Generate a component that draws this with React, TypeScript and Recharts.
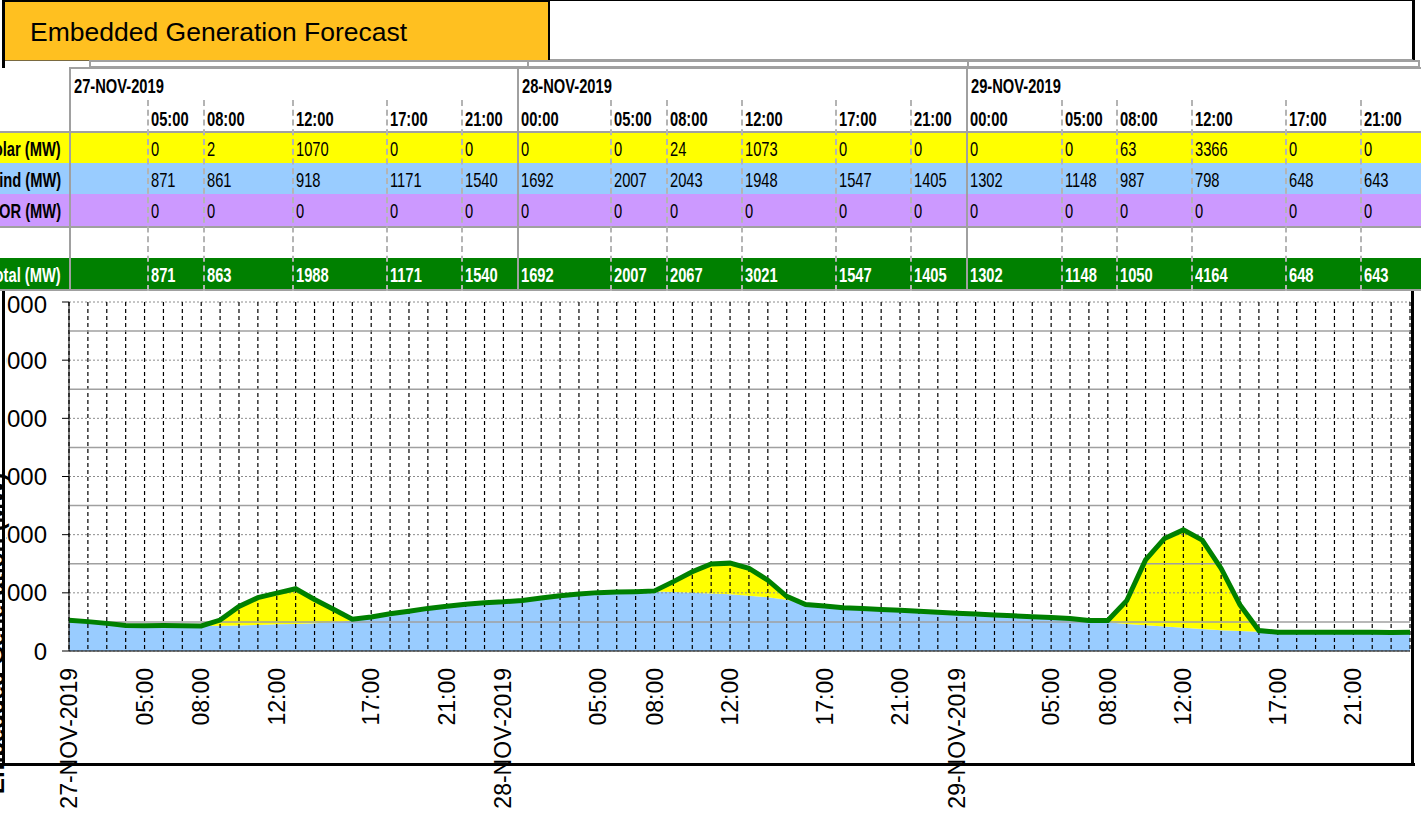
import React from "react";
import {
  Area,
  CartesianGrid,
  ComposedChart,
  Line,
  ReferenceLine,
  XAxis,
  YAxis,
} from "recharts";

// hourly forecast, 27-NOV-2019 01:00 .. 30-NOV-2019 00:00
const windMW = [
  1060, 1010, 950, 880, 871, 875, 868, 861,
  868, 880, 898, 918, 925, 950, 985, 1045,
  1171, 1280, 1370, 1465, 1540, 1610, 1660, 1692,
  1740, 1820, 1900, 1960, 2007, 2025, 2040, 2043,
  2025, 2005, 1975, 1948, 1900, 1845, 1760, 1600,
  1547, 1490, 1460, 1430, 1405, 1370, 1335, 1302,
  1270, 1240, 1210, 1180, 1148, 1120, 1045, 987,
  930, 885, 840, 798, 755, 710, 688, 665,
  648, 645, 643, 642, 643, 642, 640, 645,
];

const solarMW = [
  0, 0, 0, 0, 0, 0, 0, 2,
  196, 650, 935, 1070, 1215, 820, 450, 50,
  0, 0, 0, 0, 0, 0, 0, 0,
  0, 0, 0, 0, 0, 0, 0, 24,
  360, 720, 1015, 1073, 940, 590, 120, 0,
  0, 0, 0, 0, 0, 0, 0, 0,
  0, 0, 0, 0, 0, 0, 0, 63,
  800, 2245, 3030, 3366, 3060, 2130, 893, 40,
  0, 0, 0, 0, 0, 0, 0, 0,
];

const tickLabels = [
  "27-NOV-2019", "", "", "", "05:00", "", "", "08:00",
  "", "", "", "12:00", "", "", "", "",
  "17:00", "", "", "", "21:00", "", "", "28-NOV-2019",
  "", "", "", "", "05:00", "", "", "08:00",
  "", "", "", "12:00", "", "", "", "",
  "17:00", "", "", "", "21:00", "", "", "29-NOV-2019",
  "", "", "", "", "05:00", "", "", "08:00",
  "", "", "", "12:00", "", "", "", "",
  "17:00", "", "", "", "21:00", "", "", "",
];

const yTicks = [0, 2000, 4000, 6000, 8000, 10000, 12000];
const minorGrid = [1000, 3000, 5000, 7000, 9000, 11000];

// table above the chart
const tableDates = ["27-NOV-2019", "28-NOV-2019", "29-NOV-2019"];
const tableTimes = [
  "", "05:00", "08:00", "12:00", "17:00", "21:00",
  "00:00", "05:00", "08:00", "12:00", "17:00", "21:00",
  "00:00", "05:00", "08:00", "12:00", "17:00", "21:00",
];
const tableSolar = [null, 0, 2, 1070, 0, 0, 0, 0, 24, 1073, 0, 0, 0, 0, 63, 3366, 0, 0];
const tableWind = [null, 871, 861, 918, 1171, 1540, 1692, 2007, 2043, 1948, 1547, 1405, 1302, 1148, 987, 798, 648, 643];
const tableStor = [null, 0, 0, 0, 0, 0, 0, 0, 0, 0, 0, 0, 0, 0, 0, 0, 0, 0];

const tableTotal = tableWind.map((w, i) =>
  w === null ? null : w + (tableSolar[i] ?? 0) + (tableStor[i] ?? 0)
);

const chartData = windMW.map((w, i) => ({
  slot: i,
  wind: w,
  solar: solarMW[i],
  total: w + solarMW[i],
}));

const FONT = "'Liberation Sans', Arial, sans-serif";
const GRAY = "#a0a0a0";
const colLeft = [70, 148, 204, 293, 387, 462, 518, 611, 667, 742, 836, 911, 967, 1062, 1117, 1192, 1286, 1361];
const dayCols = [0, 6, 12];
const CHART_TOP = 291;
const CLIP_X = 6;

const abs = (s: React.CSSProperties): React.CSSProperties => ({ position: "absolute", ...s });

const CellText = ({ left, top, height, text, bold, color, right }: any) => (
  <div
    style={abs({
      left,
      right,
      top,
      height,
      lineHeight: height + "px",
      fontSize: 21,
      fontWeight: bold ? 700 : 400,
      color: color || "#000",
      whiteSpace: "nowrap",
      transform: "scaleX(0.7)",
      transformOrigin: right !== undefined ? "100% 50%" : "0 50%",
    })}
  >
    {text}
  </div>
);

const HourTick = (props: any) => {
  const { x, y, payload } = props;
  const label = tickLabels[payload.value];
  if (!label) return <g />;
  return (
    <text
      x={0}
      y={0}
      transform={`translate(${x},${y + 17}) rotate(-90)`}
      textAnchor="end"
      dy="0.35em"
      fontSize={23}
      fill="#000"
      fontFamily={FONT}
    >
      {label}
    </text>
  );
};

const rows = [
  { label: "Solar (MW)", top: 133, h: 30, bg: "#FFFF00", vals: tableSolar, color: "#000", bold: false },
  { label: "Wind (MW)", top: 163, h: 31, bg: "#99CCFF", vals: tableWind, color: "#000", bold: false },
  { label: "STOR (MW)", top: 194, h: 32, bg: "#CC99FF", vals: tableStor, color: "#000", bold: false },
  { label: "", top: 228, h: 30, bg: "#FFFFFF", vals: [], color: "#000", bold: false },
  { label: "Total (MW)", top: 258, h: 31, bg: "#008000", vals: tableTotal, color: "#fff", bold: true },
];

export default function App() {
  return (
    <div style={abs({ left: 0, top: 0, width: 1421, height: 820, overflow: "hidden", background: "#fff", fontFamily: FONT })}>
      {/* title bar */}
      <div style={abs({ left: 3, top: 0, width: 547, height: 61, background: "#FFC020", borderTop: "2px solid #000", borderRight: "2px solid #000", borderBottom: "1px solid #7a6a40", boxSizing: "border-box" })} />
      <div style={abs({ left: 30, top: 0, height: 64, lineHeight: "64px", fontSize: 26.5, color: "#000", whiteSpace: "nowrap" })}>
        Embedded Generation Forecast
      </div>
      <div style={abs({ left: 550, top: 0, width: 865, height: 61, borderTop: "1px solid #000", borderRight: "3px solid #000", borderBottom: `2px solid ${GRAY}`, boxSizing: "border-box" })} />
      <div style={abs({ left: 2, top: 0, width: 3, height: 68, background: "#000" })} />

      {/* thin strip */}
      <div style={abs({ left: 89, top: 60, width: 1331, height: 8, border: `2px solid ${GRAY}`, boxSizing: "border-box" })} />
      {[527, 967].map((x) => (
        <div key={x} style={abs({ left: x, top: 60, width: 2, height: 8, background: GRAY })} />
      ))}

      {/* table */}
      {rows.map((r) => (
        <div key={r.label + r.top} style={abs({ left: 0, top: r.top, width: 1421, height: r.h, background: r.bg })} />
      ))}
      <div style={abs({ left: 70, top: 67, width: 1351, height: 2, background: GRAY })} />
      {[131, 226, 289].map((y) => (
        <div key={y} style={abs({ left: 0, top: y, width: 1421, height: 2, background: GRAY })} />
      ))}
      {colLeft.map((x, i) =>
        dayCols.includes(i) ? (
          <div key={x} style={abs({ left: x - 1, top: 67, width: 2, height: 224, background: GRAY })} />
        ) : (
          <div key={x} style={abs({ left: x - 1, top: 100, width: 0, height: 191, borderLeft: "2px dashed #b4b4b4" })} />
        )
      )}
      {dayCols.map((c, d) => (
        <CellText key={"d" + d} left={colLeft[c] + 4} top={70} height={32} text={tableDates[d]} bold />
      ))}
      {tableTimes.map((t, i) => (
        <CellText key={"t" + i} left={colLeft[i] + 3} top={103} height={31} text={t} bold />
      ))}
      {rows.map((r) => (
        <React.Fragment key={"r" + r.top}>
          <CellText right={1421 - 61} top={r.top + 1} height={r.h} text={r.label} bold color={r.color} />
          {r.vals.map((v, i) => (
            <CellText key={i} left={colLeft[i] + 3} top={r.top + 1} height={r.h} text={v === null ? "" : String(v)} bold={r.bold} color={r.color} />
          ))}
        </React.Fragment>
      ))}

      {/* chart, clipped at the inner edge of the frame like the original */}
      <div style={abs({ left: CLIP_X, top: CHART_TOP, width: 1421 - CLIP_X, height: 529, overflow: "hidden" })}>
        <div style={abs({ left: -CLIP_X, top: 0 })}>
          <ComposedChart width={1421} height={529} data={chartData} margin={{ top: 11, right: 11, left: 0, bottom: 0 }}>
            <XAxis
              dataKey="slot"
              type="category"
              interval={0}
              height={169}
              tickLine={false}
              tickSize={0}
              tickMargin={0}
              axisLine={{ stroke: "#000", strokeWidth: 1 }}
              tick={<HourTick />}
            />
            <YAxis
              type="number"
              domain={[0, 12000]}
              ticks={yTicks}
              width={69}
              tickSize={7}
              tickMargin={15}
              axisLine={{ stroke: "#000" }}
              tickLine={{ stroke: "#000" }}
              tick={{ fontSize: 24, fill: "#000", fontFamily: FONT }}
            />
            <Area type="linear" dataKey="wind" stackId="gen" stroke="none" fill="#99CCFF" fillOpacity={1} isAnimationActive={false} />
            <Area type="linear" dataKey="solar" stackId="gen" stroke="none" fill="#FFFF00" fillOpacity={1} isAnimationActive={false} />
            <CartesianGrid vertical={false} stroke="#8c8c8c" strokeDasharray="2 2" zIndex={150} />
            <CartesianGrid horizontal={false} stroke="#000" strokeWidth={1.2} strokeDasharray="4 3" zIndex={150} />
            {minorGrid.map((v) => (
              <ReferenceLine key={v} y={v} stroke={GRAY} strokeWidth={1.5} zIndex={150} />
            ))}
            <Line type="linear" dataKey="total" stroke="#008000" strokeWidth={5} dot={false} activeDot={false} isAnimationActive={false} />
          </ComposedChart>
        </div>
      </div>

      {/* outer frame */}
      <div style={abs({ left: 2, top: 291, width: 3, height: 475, background: "#000" })} />
      <div style={abs({ left: 0, top: 763, width: 1415, height: 3, background: "#000" })} />
      <div style={abs({ left: 1411, top: 291, width: 3, height: 475, background: "#000" })} />

      {/* axis title, mostly off the left edge */}
      <div style={abs({ left: -16, top: 794, transformOrigin: "0 0", transform: "rotate(-90deg)", fontSize: 24, fontWeight: 700, whiteSpace: "nowrap", lineHeight: "24px" })}>
        Embedded Generation (MW)
      </div>
    </div>
  );
}
